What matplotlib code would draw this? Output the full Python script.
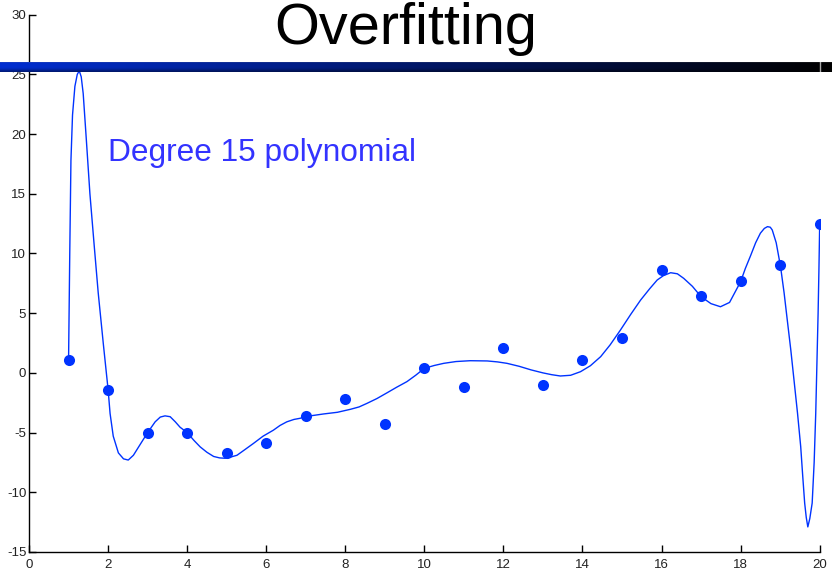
import numpy as np
import matplotlib
matplotlib.use('Agg')
import matplotlib.pyplot as plt

plt.rcParams['font.family'] = ['Liberation Sans', 'DejaVu Sans']
plt.rcParams['axes.unicode_minus'] = False

# ── Data ─────────────────────────────────────────────────────────────────────
x_pts = [1, 2, 3, 4, 5, 6, 7, 8, 9, 10, 11, 12, 13, 14, 15, 16, 17, 18, 19, 20]
y_pts = [1.1, -1.4, -5.0, -5.0, -6.7, -5.9, -3.6, -2.2, -4.3, 0.4,
         -1.2, 2.1, -1.0, 1.1, 2.9, 8.6, 6.4, 7.7, 9.0, 12.45]

# vertices of the degree 15 fit
curve_x = [1.00, 1.03, 1.06, 1.10, 1.16, 1.22, 1.27, 1.32, 1.37, 1.45, 1.54,
           1.65, 1.75, 1.88, 2.00, 2.05, 2.13, 2.26, 2.39, 2.51, 2.64, 2.81,
           3.00, 3.19, 3.32, 3.44, 3.57, 3.70, 3.82, 4.00, 4.17, 4.33, 4.50,
           4.67, 4.82, 4.96, 5.10, 5.26, 5.45, 5.68, 5.92, 6.18, 6.35, 6.52,
           6.70, 6.86, 7.00, 7.22, 7.45, 7.80, 8.13, 8.35, 8.55, 8.80, 9.06,
           9.30, 9.56, 9.78, 10.00, 10.25, 10.49, 10.80, 11.16, 11.59, 11.85,
           12.09, 12.40, 12.70, 13.00, 13.22, 13.44, 13.70, 13.95, 14.20,
           14.46, 14.70, 14.96, 15.22, 15.47, 15.70, 15.89, 16.05, 16.23,
           16.40, 16.56, 16.78, 17.00, 17.25, 17.49, 17.72, 18.00, 18.12,
           18.25, 18.38, 18.50, 18.60, 18.68, 18.75, 18.80, 18.90, 19.01,
           19.10, 19.18, 19.27, 19.35, 19.44, 19.52, 19.57, 19.62, 19.66,
           19.70, 19.75, 19.81, 19.86, 19.90, 19.93, 19.96, 19.98, 20.00]
curve_y = [1.1, 10.0, 17.8, 21.6, 24.0, 25.0, 25.3, 24.8, 23.4, 19.5, 15.0,
           10.6, 6.7, 2.4, -1.4, -3.4, -5.3, -6.7, -7.2, -7.3, -6.9, -6.0,
           -5.0, -4.1, -3.7, -3.6, -3.67, -4.1, -4.55, -5.0, -5.65, -6.2, -6.65,
           -7.0, -7.12, -7.15, -7.05, -6.9, -6.45, -5.9, -5.3, -4.8, -4.4, -4.1,
           -3.9, -3.8, -3.65, -3.55, -3.44, -3.3, -3.05, -2.85, -2.55, -2.15, -1.66,
           -1.2, -0.73, -0.2, 0.38, 0.62, 0.8, 0.95, 1.02, 1.0, 0.92,
           0.8, 0.55, 0.25, 0.0, -0.15, -0.26, -0.2, 0.1, 0.6,
           1.36, 2.35, 3.59, 4.9, 6.1, 7.05, 7.78, 8.15, 8.39,
           8.3, 7.92, 7.25, 6.38, 5.8, 5.54, 5.9, 7.64, 8.75,
           9.8, 10.9, 11.7, 12.1, 12.25, 12.2, 11.97, 10.9, 8.9,
           6.7, 4.43, 1.9, -0.59, -3.4, -6.18, -8.6, -10.9, -12.1,
           -12.9, -12.2, -10.9, -7.5, -3.4, 0.8, 5.0, 8.5, 12.45]

x_ticks = [0, 2, 4, 6, 8, 10, 12, 14, 16, 18, 20]
y_ticks = [-15, -10, -5, 0, 5, 10, 15, 20, 25, 30]

BLUE = '#0033ff'

# ── Figure ────────────────────────────────────────────────────────────────────
fig = plt.figure(figsize=(8.32, 5.72), dpi=100)
ax = fig.add_axes([0.0349, 0.035, 0.9503, 0.9393])

ax.plot(curve_x, curve_y, color=BLUE, lw=1.0, zorder=2)
ax.plot(x_pts, y_pts, 'o', color=BLUE, ms=8, mec='none', zorder=3)

ax.set_xlim(0, 20)
ax.set_ylim(-15, 30)
ax.set_xticks(x_ticks)
ax.set_yticks(y_ticks)
for side in ['top', 'right']:
    ax.spines[side].set_visible(False)
for side in ['left', 'bottom']:
    ax.spines[side].set_linewidth(1.0)
ax.tick_params(direction='in', length=5, width=1, labelsize=9.5,
               labelcolor='#222222')
ax.tick_params(axis='x', pad=5)
ax.tick_params(axis='y', pad=2)

ax.text(2.0, 17.75, 'Degree 15 polynomial', color='#3333ff', fontsize=22.8,
        va='baseline', ha='left')

# slide header: gradient bar and title
bar_ax = fig.add_axes([0, 1 - 72 / 572, 1, 10 / 572], zorder=5)
t = np.linspace(0, 1, 400)
rows = np.array([0.75, 1.0, 1.0, 1.0, 1.0, 1.0, 0.95, 0.85, 0.7, 0.6])
grad = np.zeros((len(rows), len(t), 3))
grad[:, :, 1] = 0.18 * (1 - t)[None, :] * rows[:, None]
grad[:, :, 2] = 0.82 * (1 - t)[None, :] * rows[:, None]
grad[0, :, :] = 0.55
bar_ax.imshow(grad, aspect='auto', extent=[0, 1, 0, 1], interpolation='bilinear')
bar_ax.axvline(819.5 / 832, color='#aaaaaa', lw=1)
bar_ax.set_axis_off()

fig.text(0.488, 1 - 44 / 572, 'Overfitting', fontsize=41.5, ha='center',
         va='baseline', color='black')

fig.savefig('out.png', dpi=100)
